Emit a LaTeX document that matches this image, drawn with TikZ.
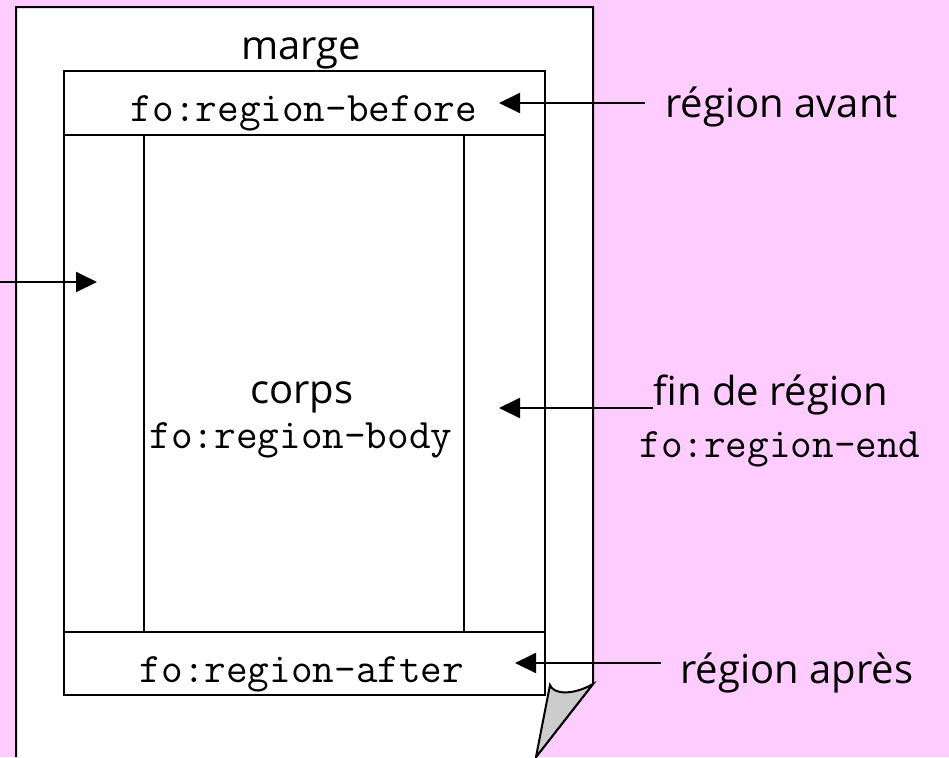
\documentclass[tikz,border=0pt]{standalone}
\usepackage{fontspec}
\usepackage{xcolor}
\usepackage{tikz}
\usetikzlibrary{arrows.meta}
\newfontfamily\comicfont{Open Sans}
\definecolor{rose}{RGB}{255,204,255}
\definecolor{pli}{RGB}{204,204,204}

\begin{document}
\begin{tikzpicture}[x=0.5pt, y=-0.5pt,
    trait/.style={line width=1pt},
    fleche/.style={line width=1pt, -{Triangle[length=10.5pt, width=10pt]}},
    etiq/.style={font=\comicfont\fontsize{20}{24}\selectfont, anchor=base west, inner sep=0pt},
    code/.style={font=\ttfamily\fontsize{21}{25}\selectfont, anchor=base, inner sep=0pt}]

            \useasboundingbox (0,0) rectangle (949,757);
            \fill[rose] (0,0) rectangle (949,757);

            % la page et son coin replie
            \fill[white] (16,757) -- (16,7) -- (593,7) -- (593,684) -- (536,757) -- cycle;
            \draw[trait] (16,757) -- (16,7) -- (593,7) -- (593,684) -- (536,757);
            \filldraw[trait, fill=pli] (550,685) .. controls (553,694) and (572,696) .. (593,684) -- (536,757) -- cycle;

            % les regions
            \draw[trait] (64,71) rectangle (545,695);
            \draw[trait] (64,135) -- (545,135);
            \draw[trait] (64,632) -- (545,632);
            \draw[trait] (144,135) -- (144,632);
            \draw[trait] (464,135) -- (464,632);

            \node[etiq, anchor=base] (marge) at (301,59) {marge};
            \node[code] (before) at (304,121) {fo:region-before};
            \node[etiq, anchor=base] (corps) at (302,403) {corps};
            \node[code] (body) at (301,448) {fo:region-body};
            \node[code] (after) at (302,682) {fo:region-after};

            \node[etiq, inner xsep=10pt] (avant) at (645,117) {région avant};
            \node[etiq] (fin) at (653,405) {fin de région};
            \node[code] (finCode) at (780,457) {fo:region-end};
            \node[etiq, inner xsep=9.5pt] (apres) at (661,683) {région après};

            \coordinate (bordGauche) at (0,282);
            \coordinate (pointeDebut) at (97,282);
            \coordinate (pointeAvant) at (499,103);
            \coordinate (pointeFin) at (499,408);
            \coordinate (pointeApres) at (515,663);

            \draw[fleche] (bordGauche) -- (pointeDebut);
            \draw[fleche] (avant.west |- pointeAvant) -- (pointeAvant);
            \draw[fleche] (fin.west |- pointeFin) -- (pointeFin);
            \draw[fleche] (apres.west |- pointeApres) -- (pointeApres);
        \end{tikzpicture}
\end{document}
